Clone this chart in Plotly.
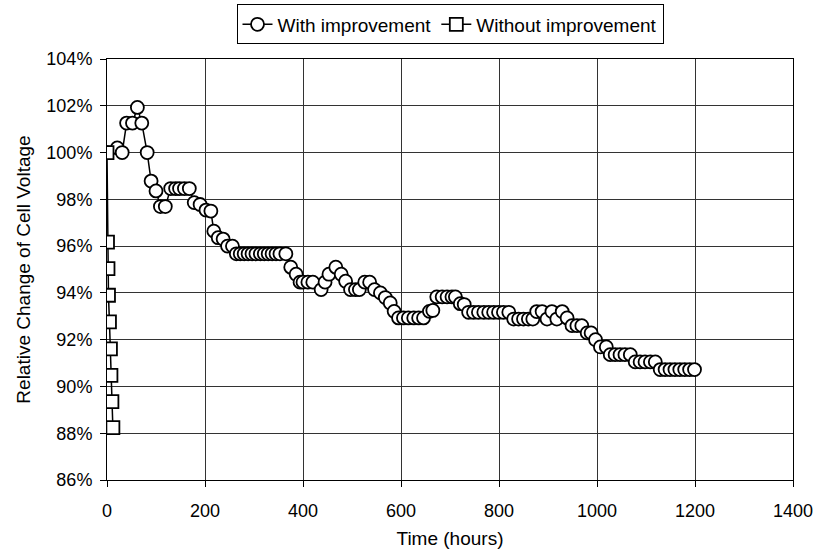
import plotly.graph_objects as go

# With improvement
t_with = [0, 21, 31, 40, 52, 62, 71, 82, 90, 100, 109, 119, 130, 140, 148, 158, 168,
          178, 190, 202, 212, 218, 227, 237, 246, 256, 264, 272, 280, 288, 296, 304,
          313, 321, 329, 337, 345, 353, 365, 375, 386, 394, 400, 410, 420, 437, 445,
          453, 467, 478, 487, 497, 507, 515, 526, 536, 546, 558, 568, 578, 586, 595,
          605, 615, 626, 636, 646, 658, 665, 673, 684, 694, 704, 711, 721, 729, 738,
          748, 758, 769, 779, 789, 799, 809, 820, 830, 840, 850, 860, 869, 877, 888,
          898, 908, 918, 929, 939, 949, 959, 969, 980, 988, 997, 1007, 1019, 1027,
          1037, 1047, 1057, 1068, 1078, 1088, 1098, 1109, 1119, 1129, 1139, 1149,
          1159, 1169, 1179, 1189, 1199]
v_with = [100.0, 100.2, 100.0, 101.26, 101.26, 101.93, 101.26, 100.0, 98.78, 98.36,
          97.69, 97.69, 98.46, 98.46, 98.46, 98.46, 98.46, 97.86, 97.78, 97.54, 97.5,
          96.64, 96.36, 96.3, 96.0, 96.0, 95.67, 95.67, 95.67, 95.67, 95.67, 95.67,
          95.67, 95.67, 95.67, 95.67, 95.67, 95.67, 95.67, 95.1, 94.8, 94.46, 94.46,
          94.46, 94.46, 94.14, 94.46, 94.8, 95.1, 94.8, 94.5, 94.14, 94.14, 94.14,
          94.46, 94.46, 94.14, 94.0, 93.8, 93.57, 93.21, 92.93, 92.93, 92.93, 92.93,
          92.93, 92.93, 93.21, 93.25, 93.83, 93.83, 93.83, 93.83, 93.83, 93.54, 93.5,
          93.17, 93.17, 93.17, 93.17, 93.17, 93.17, 93.17, 93.17, 93.17, 92.88, 92.88,
          92.88, 92.88, 92.88, 93.2, 93.2, 92.88, 93.2, 92.88, 93.2, 92.93, 92.6,
          92.6, 92.6, 92.29, 92.29, 92.0, 91.69, 91.69, 91.36, 91.36, 91.36, 91.36,
          91.36, 91.05, 91.05, 91.05, 91.05, 91.05, 90.72, 90.72, 90.72, 90.72,
          90.72, 90.72, 90.72, 90.72]

# Without improvement
t_without = [0, 1, 2, 3, 5, 7, 8, 10, 12]
v_without = [100.0, 96.17, 95.04, 93.9, 92.76, 91.61, 90.47, 89.35, 88.24]

x_ticks = [0, 200, 400, 600, 800, 1000, 1200, 1400]
y_ticks = [86, 88, 90, 92, 94, 96, 98, 100, 102, 104]
y_tick_labels = [f"{v}%" for v in y_ticks]

FONT = "Arial, Liberation Sans, Helvetica, sans-serif"

fig = go.Figure()
fig.add_trace(go.Scatter(
    x=t_with, y=v_with, mode="lines+markers", name="With improvement",
    line=dict(color="black", width=1.5),
    marker=dict(symbol="circle", size=13, color="white",
                line=dict(color="black", width=1.8)),
))
fig.add_trace(go.Scatter(
    x=t_without, y=v_without, mode="lines+markers", name="Without improvement",
    line=dict(color="black", width=1.5),
    marker=dict(symbol="square", size=13, color="white",
                line=dict(color="black", width=1.8)),
))

fig.update_layout(
    width=814, height=557,
    margin=dict(l=107, r=21, t=59, b=77, autoexpand=False),
    paper_bgcolor="white", plot_bgcolor="white",
    font=dict(family=FONT, size=17, color="black"),
    showlegend=True,
    legend=dict(orientation="h", x=0.5, xanchor="center",
                yref="container", y=0.992, yanchor="top",
                bordercolor="black", borderwidth=1, bgcolor="white",
                font=dict(size=19), itemwidth=30, tracegroupgap=0),
    xaxis=dict(range=[0, 1400], tickvals=x_ticks, showgrid=True,
               gridcolor="#333", gridwidth=1, showline=True, linecolor="black",
               linewidth=1, mirror=True, ticks="outside", ticklen=6,
               tickcolor="black", zeroline=False, ticklabelstandoff=8,
               title=dict(text="Time (hours)", standoff=12, font=dict(size=19)),
               tickfont=dict(size=18)),
    yaxis=dict(range=[86, 104], tickvals=y_ticks, ticktext=y_tick_labels,
               showgrid=True, gridcolor="#333", gridwidth=1, showline=True,
               linecolor="black", linewidth=1, mirror=True, ticks="outside",
               ticklen=6, tickcolor="black", zeroline=False, ticklabelstandoff=4,
               title=dict(text="Relative Change of Cell Voltage", standoff=10,
                          font=dict(size=19)),
               tickfont=dict(size=18)),
)

fig.write_html("out.html")
